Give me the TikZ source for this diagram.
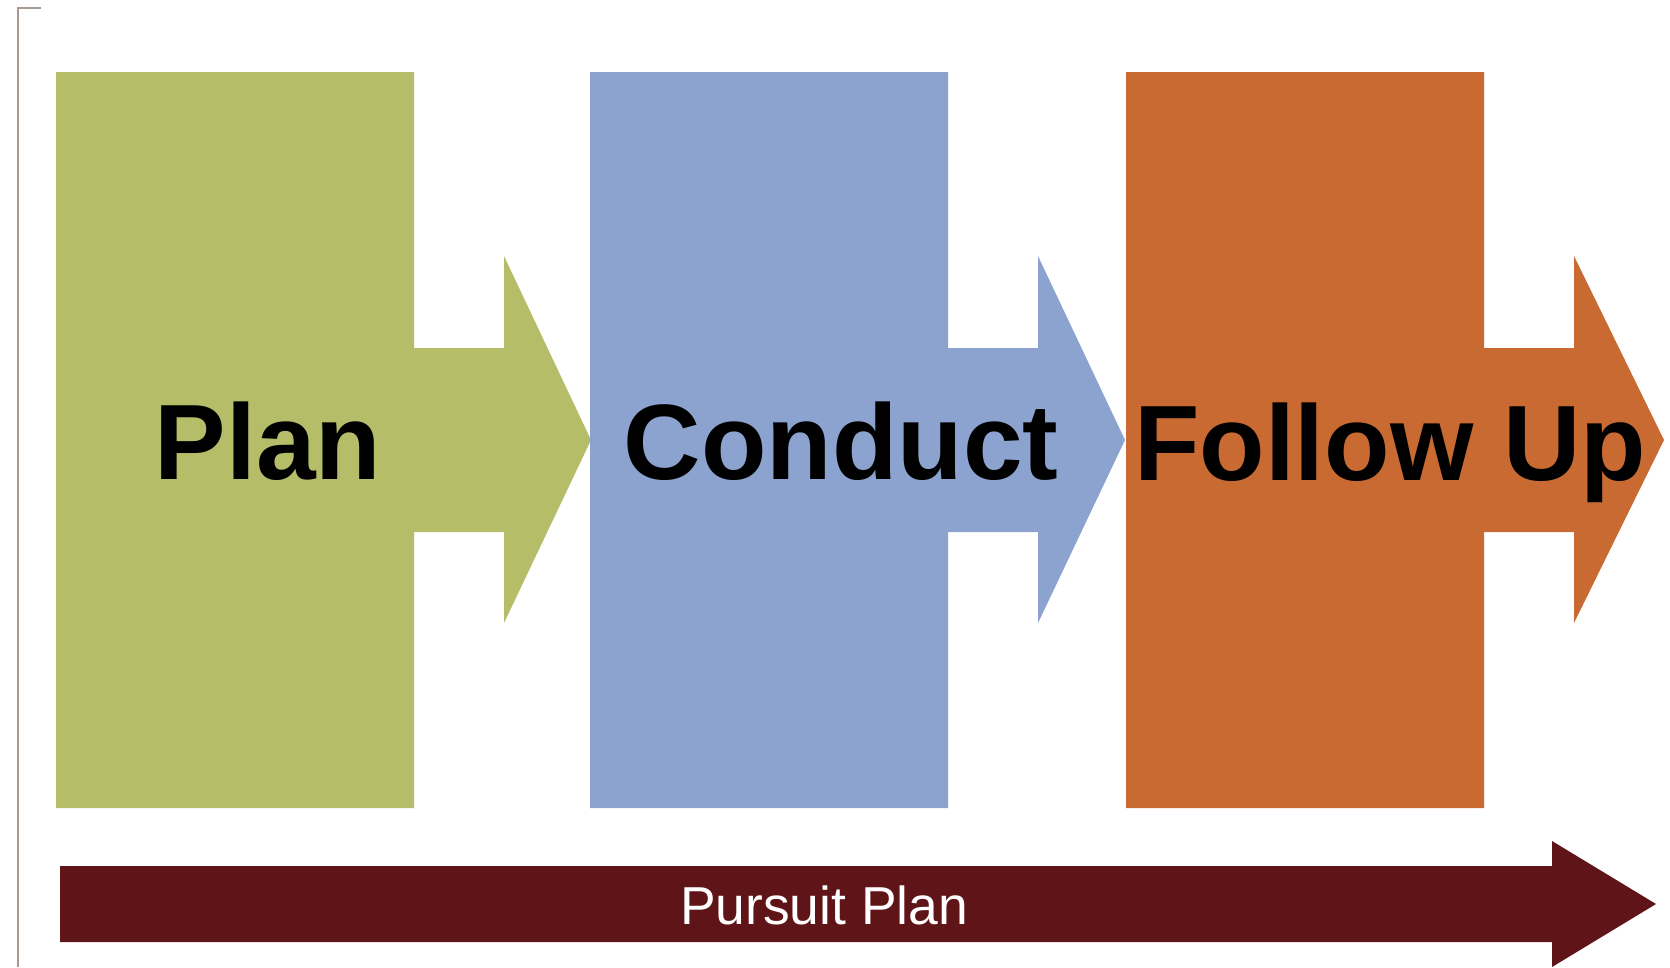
\documentclass[tikz,border=0pt]{standalone}
\usepackage{fontspec}
\setmainfont{Liberation Sans}
\usetikzlibrary{positioning}

\begin{document}
\begin{tikzpicture}[x=0.02cm,y=-0.02cm]
\def\W{358}
\def\top{72}
\def\bot{808}
\definecolor{plan color}{HTML}{B6BD68}
\definecolor{conduct color}{HTML}{8BA3CE}
\definecolor{follow color}{HTML}{C96A33}
\definecolor{pursuit color}{HTML}{5F1418}
\definecolor{frame color}{HTML}{A89A90}
\tikzset{
  every node/.style={inner sep=0pt,anchor=base},
  phase/.style={fill,draw=none},
  phase label/.style={font=\fontsize{61}{61}\selectfont\bfseries,text=black},
  pursuit label/.style={font=\fontsize{30.4}{30.4}\selectfont,text=white},
  frame/.style={draw=frame color,line width=1.1pt}
}
\useasboundingbox (0,0) rectangle (1670,967);

%FRAME
\draw[frame] (41,8) -- (18,8) -- (18,967);

%PHASES
\fill[phase,plan color] (56,\top) -- ++(\W,0) -- ++(0,276) -- ++(90,0) -- ++(0,-92)
  -- ++(87,184) -- ++(-87,183) -- ++(0,-91) -- ++(-90,0) -- (56+\W,\bot) -- (56,\bot) -- cycle;
\fill[phase,conduct color] (590,\top) -- ++(\W,0) -- ++(0,276) -- ++(90,0) -- ++(0,-92)
  -- ++(87,184) -- ++(-87,183) -- ++(0,-91) -- ++(-90,0) -- (590+\W,\bot) -- (590,\bot) -- cycle;
\fill[phase,follow color] (1126,\top) -- ++(\W,0) -- ++(0,276) -- ++(90,0) -- ++(0,-92)
  -- ++(90,184) -- ++(-90,183) -- ++(0,-91) -- ++(-90,0) -- (1126+\W,\bot) -- (1126,\bot) -- cycle;

\node[phase label] (PLAN) at (268,479) {Plan};
\node[phase label] (CONDUCT) at (841,479) {Conduct};
\node[phase label] (FOLLOW) at (1390,480) {Follow Up};

%PURSUIT
\fill[pursuit color] (60,866) -- (1552,866) -- (1552,841) -- (1656,904)
  -- (1552,967) -- (1552,942) -- (60,942) -- cycle;
\node[pursuit label] (PURSUIT) at (824,924) {Pursuit Plan};

\end{tikzpicture}
\end{document}
